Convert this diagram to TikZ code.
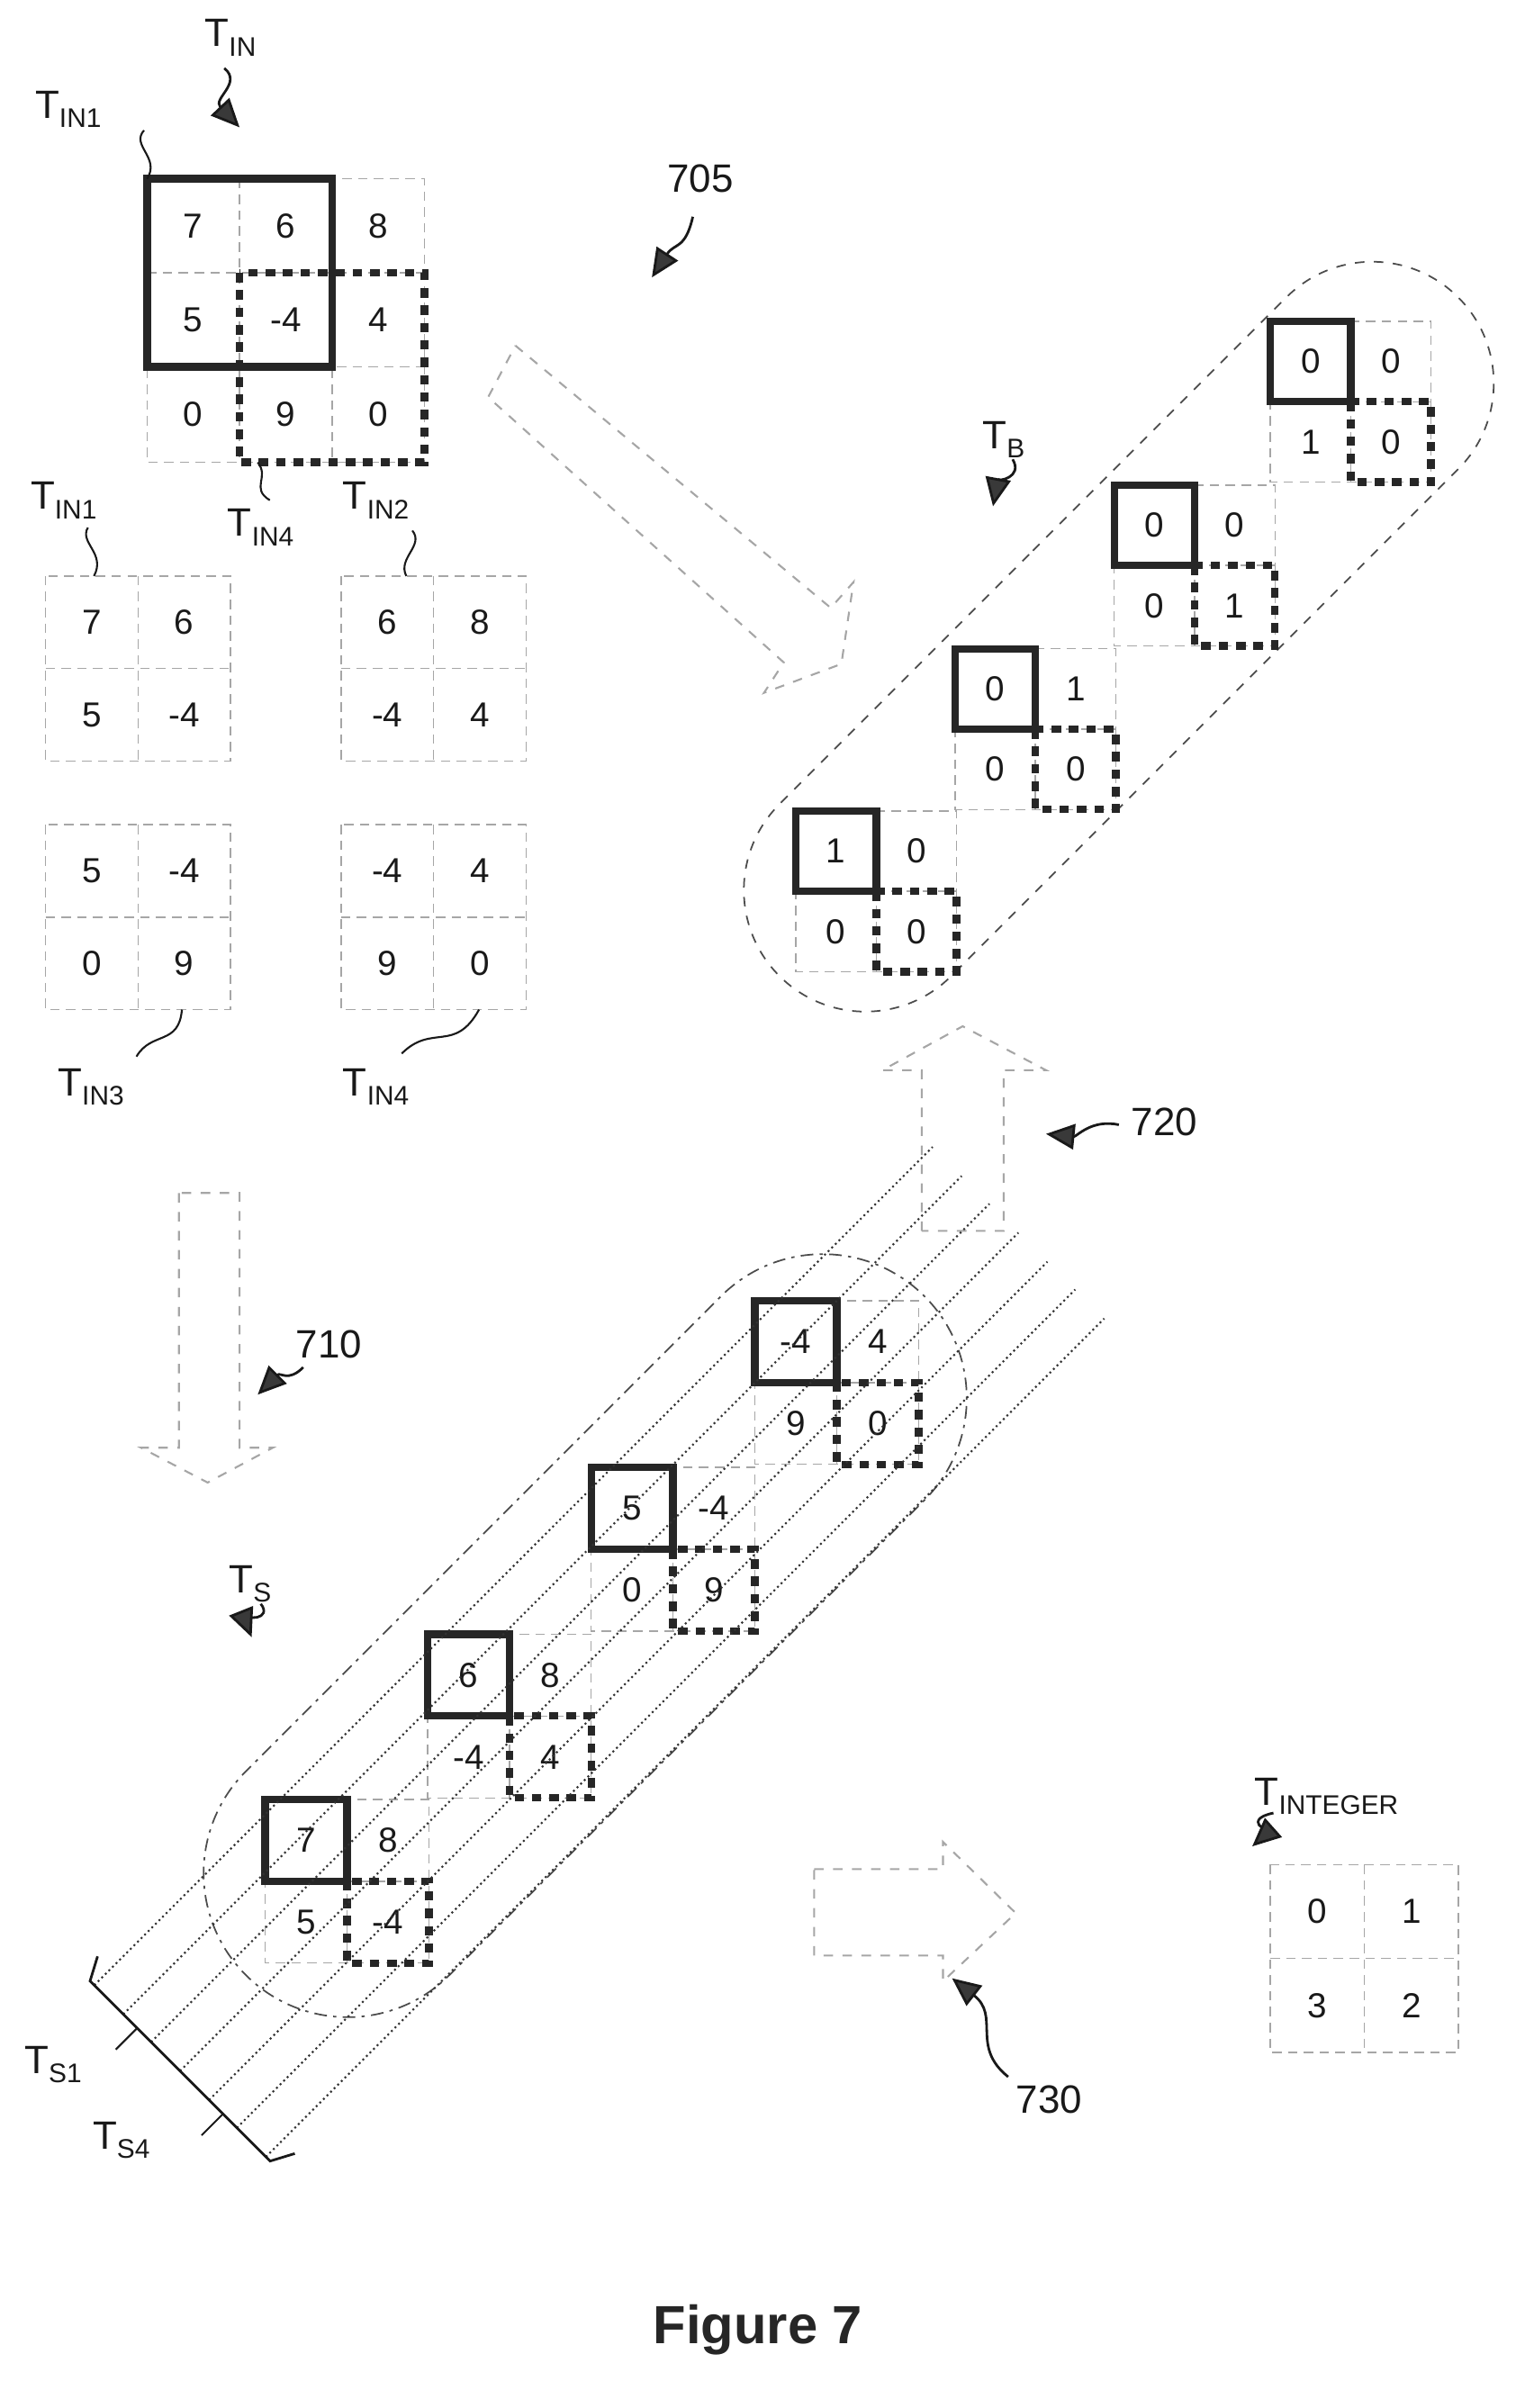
\documentclass[tikz,border=0pt]{standalone}
\usepackage{fontspec}
\setmainfont{Liberation Sans}
\usetikzlibrary{arrows.meta,shapes.misc}
\tikzset{
 grid/.style={draw=gray!70, densely dashed, line width=0.4pt},
 bsq/.style={draw=gray!30!black, line width=2.4pt},
 dsq/.style={draw=gray!30!black, line width=2.4pt, dash pattern=on 3pt off 2.5pt},
 val/.style={font=\fontsize{11}{13}\selectfont, text=gray!20!black, inner sep=0pt},
 lab/.style={font=\fontsize{12.5}{14}\selectfont, text=gray!20!black, inner sep=1pt},
 squig/.style={draw=gray!20!black, line width=0.6pt},
 lead/.style={draw=gray!20!black, line width=0.8pt, -{Triangle[length=9pt,width=8pt,fill=gray!45!black]}},
 hollow/.style={draw=gray!70, dashed, line width=0.6pt, fill=white},
 sline/.style={draw=gray!40!black, line width=0.6pt, densely dotted},
}
\newcommand\Tsub[2]{T\raisebox{-0.45ex}{\fontsize{8.5}{9}\selectfont #2}}
% #1 x, #2 y, #3 cell, #4 name, #5-#8 values, #9 bold(1/0)
\newcommand\mtwo[9]{%
 \draw[grid] (#1,#2) rectangle ++(2*#3,2*#3);
 \draw[grid] (#1+#3,#2) -- ++(0,2*#3) (#1,#2+#3) -- ++(2*#3,0);
 \node[val] (#4a) at (#1+0.5*#3,#2+0.5*#3) {#5};
 \node[val] (#4b) at (#1+1.5*#3,#2+0.5*#3) {#6};
 \node[val] (#4c) at (#1+0.5*#3,#2+1.5*#3) {#7};
 \node[val] (#4d) at (#1+1.5*#3,#2+1.5*#3) {#8};
 \ifnum#9=1
 \draw[bsq] (#1,#2) rectangle ++(#3,#3);
 \draw[dsq] (#1+#3,#2+#3) rectangle ++(#3,#3);
 \fi}
\begin{document}
\begin{tikzpicture}[x=0.01684cm,y=-0.01684cm]
\useasboundingbox (0,0) rectangle (1000,1588.5);

% ---------- T_IN 3x3
\draw[grid] (97,118) rectangle (280,305);
\draw[grid] (158,118)--(158,305) (219,118)--(219,305) (97,180)--(280,180) (97,242)--(280,242);
\foreach \v [count=\i from 0] in {7,6,8,5,-4,4,0,9,0}{
 \pgfmathtruncatemacro\c{mod(\i,3)}\pgfmathtruncatemacro\r{div(\i,3)}
 \node[val] (in\i) at (127.5+61*\c,149+62*\r) {\v};}
\draw[bsq] (97,118) rectangle (219,242);
\draw[dsq] (158,180) rectangle (280,305);
\node[lab] (Tin) at (152,25) {\Tsub{T}{IN}};
\draw[lead] (148,45) .. controls (160,55) and (140,65) .. (158,84);
\node[lab] (Tin1a) at (45,72) {\Tsub{T}{IN1}};
\draw[squig] (95,86) .. controls (86,96) and (106,104) .. (97,118);
\node[lab] (Tin4a) at (172,348) {\Tsub{T}{IN4}};
\draw[squig] (170,305) .. controls (178,315) and (165,322) .. (178,330);

% ---------- 2x2 blocks
\mtwo{30}{380}{61}{a}{7}{6}{5}{-4}{0}
\mtwo{225}{380}{61}{b}{6}{8}{-4}{4}{0}
\mtwo{30}{544}{61}{c}{5}{-4}{0}{9}{0}
\mtwo{225}{544}{61}{d}{-4}{4}{9}{0}{0}
\node[lab] (Tin1) at (42,330) {\Tsub{T}{IN1}};
\draw[squig] (58,348) .. controls (52,358) and (70,365) .. (62,380);
\node[lab] (Tin2) at (248,330) {\Tsub{T}{IN2}};
\draw[squig] (272,350) .. controls (280,360) and (262,368) .. (268,380);
\node[lab] (Tin3) at (60,717) {\Tsub{T}{IN3}};
\draw[squig] (120,666) .. controls (118,690) and (100,680) .. (90,697);
\node[lab] (Tin4) at (248,717) {\Tsub{T}{IN4}};
\draw[squig] (316,666) .. controls (300,695) and (285,675) .. (265,695);

% ---------- arrow 705
\draw[hollow] (340,228) -- (548,401) -- (563,384) -- (555,438) -- (504,457) -- (517,437) -- (322,262) -- cycle;
\node[lab] (n705) at (462,118) {705};
\draw[lead] (457,143) .. controls (452,165) and (445,160) .. (430,183);

% ---------- T_B capsule
\node[rounded rectangle, draw=gray!60!black, dashed, line width=0.5pt, rotate=45,
 minimum width=10.9cm, minimum height=2.7cm] (capB) at (738,420) {};
\mtwo{525}{535}{53}{p}{1}{0}{0}{0}{1}
\mtwo{630}{428}{53}{q}{0}{1}{0}{0}{1}
\mtwo{735}{320}{53}{r}{0}{0}{0}{1}{1}
\mtwo{838}{212}{53}{s}{0}{0}{1}{0}{1}
\node[lab] (TB) at (662,290) {\Tsub{T}{B}};
\draw[lead] (668,303) .. controls (675,315) and (658,318) .. (655,334);

% ---------- arrow 720
\draw[hollow] (608,812) -- (608,706) -- (582,706) -- (635,677) -- (690,706) -- (662,706) -- (662,812) -- cycle;
\node[lab] (n720) at (768,740) {720};
\draw[lead] (738,742) .. controls (720,738) and (710,750) .. (690,748);

% ---------- arrow 710
\draw[hollow] (118,787) -- (118,955) -- (93,955) -- (137,978) -- (180,955) -- (158,955) -- (158,787) -- cycle;
\node[lab] (n710) at (217,887) {710};
\draw[lead] (200,902) .. controls (190,912) and (185,905) .. (170,920);

% ---------- T_S
\node[lab] (TS) at (165,1045) {\Tsub{T}{S}};
\draw[lead] (172,1058) .. controls (180,1068) and (162,1070) .. (166,1080);
\node[rounded rectangle, draw=gray!60!black, dash pattern=on 4pt off 2pt on 1pt off 2pt, line width=0.5pt, rotate=45,
 minimum width=10.9cm, minimum height=3.2cm] (capS) at (386,1079) {};
\mtwo{175}{1187}{54}{e}{7}{8}{5}{-4}{1}
\mtwo{282}{1078}{54}{f}{6}{8}{-4}{4}{1}
\mtwo{390}{968}{54}{g}{5}{-4}{0}{9}{1}
\mtwo{498}{858}{54}{h}{-4}{4}{9}{0}{1}
\begin{scope}[shift={(396,1089)},rotate=45]
 \foreach \v in {-80,-53,-27,0,27,53,80}{\draw[sline] (-392,\v) -- (390,\v);}
 \coordinate (b1) at (-392,-84);
 \coordinate (b2) at (-392,84);
 \draw[line width=0.8pt,gray!20!black] (-377,-92) -- (b1) -- (b2) -- (-377,92);
 \draw[line width=0.6pt,gray!20!black] (-392,-40) -- (-412,-40) (-392,40) -- (-412,40);
\end{scope}
\node[lab] (TS1) at (35,1362) {\Tsub{T}{S1}};
\node[lab] (TS4) at (80,1412) {\Tsub{T}{S4}};

% ---------- arrow 730
\draw[hollow] (537,1233) -- (622,1233) -- (622,1215) -- (670,1262) -- (622,1307) -- (622,1290) -- (537,1290) -- cycle;
\node[lab] (n730) at (692,1385) {730};
\draw[lead] (665,1370) .. controls (640,1350) and (660,1330) .. (628,1305);

% ---------- T_INTEGER
\mtwo{838}{1230}{62}{t}{0}{1}{3}{2}{0}
\node[lab] (Tint) at (875,1185) {\Tsub{T}{INTEGER}};
\draw[lead] (840,1196) .. controls (820,1200) and (835,1210) .. (826,1218);

\node[font=\bfseries\fontsize{17}{20}\selectfont, text=gray!30!black] (fig) at (500,1537) {Figure 7};
\end{tikzpicture}
\end{document}
